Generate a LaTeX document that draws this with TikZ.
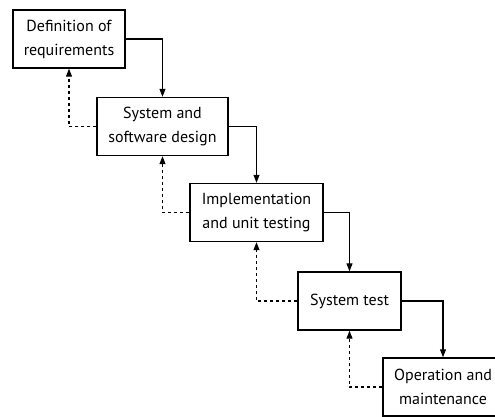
\documentclass[tikz,border=0pt]{standalone}
\usepackage{fontspec}
\setmainfont{PT Sans}
\usetikzlibrary{arrows.meta}

\begin{document}
\begin{tikzpicture}[x=1pt,y=-1pt,
                    phase/.style={draw,line width=1.4pt,minimum height=58pt,align=center,
                        inner sep=2pt,font=\fontsize{16}{24}\selectfont},
                    flow/.style={line width=1.1pt,-{Triangle[length=8pt,width=6pt]}},
                    back/.style={flow,dash pattern=on 3pt off 3pt}]
                    \useasboundingbox (0,0) rectangle (495,416);
                    \clip (0,0) rectangle (495,416);
                    \node[phase,minimum width=112pt] (req node) at (69,39) {Definition of\\requirements};
                    \node[phase,minimum width=131pt] (design node) at (162.5,126.5) {System and\\software design};
                    \node[phase,minimum width=133pt] (impl node) at (256.5,212.5) {Implementation\\and unit testing};
                    \node[phase,minimum width=103pt] (test node) at (349.5,301) {System test};
                    \node[phase,minimum width=120pt] (op node) at (443,387) {Operation and\\maintenance};
                    \draw[flow] (req node.east) -| (design node.north);
                    \draw[flow] (design node.east) -| (impl node.north);
                    \draw[flow] (impl node.east) -| (test node.north);
                    \draw[flow] (test node.east) -| (op node.north);
                    \draw[back] (design node.west) -| (req node.south);
                    \draw[back] (impl node.west) -| (design node.south);
                    \draw[back] (test node.west) -| (impl node.south);
                    \draw[back] (op node.west) -| (test node.south);
                \end{tikzpicture}
\end{document}
